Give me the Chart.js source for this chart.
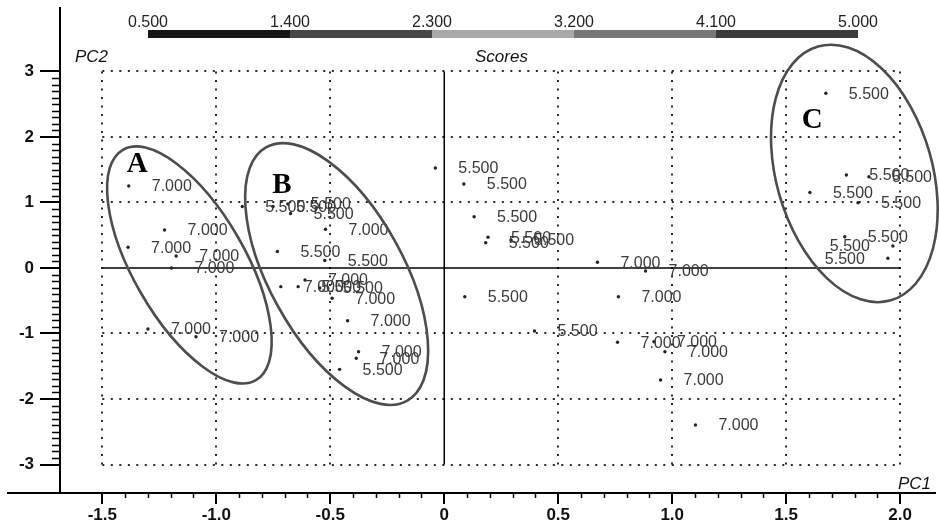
<!DOCTYPE html>
<html>
<head>
<meta charset="utf-8">
<script src="https://cdn.jsdelivr.net/npm/chart.js@4.4.0/dist/chart.umd.min.js"></script>
<style>
  html, body { margin: 0; padding: 0; background: #fff; }
  #wrap { width: 939px; height: 524px; }
</style>
</head>
<body>
<div id="wrap"><canvas id="scores" width="939" height="524"></canvas></div>
<script>
// scores on PC1 / PC2 and the value printed beside each point
const pc1 = [
  -1.384, -1.227, -1.387, -1.176, -1.197, -1.300, -1.089,
  -0.886, -0.751, -0.686, -0.674, -0.521, -0.732, -0.524, -0.717, -0.641, -0.611, -0.546, -0.492, -0.424, -0.376, -0.386, -0.459,
  -0.039, 0.086, 0.131, 0.192, 0.182, 0.293, 0.672, 0.883, 0.090, 0.764, 0.396, 0.760, 0.920, 0.968, 0.949, 1.102,
  1.674, 1.764, 1.863, 1.604, 1.815, 1.757, 1.968, 1.946
];
const pc2 = [
  1.252, 0.580, 0.316, 0.183, 0.000, -0.931, -1.049,
  0.939, 0.939, 0.977, 0.832, 0.591, 0.252, 0.115, -0.285, -0.285, -0.183, -0.305, -0.463, -0.805, -1.278, -1.379, -1.547,
  1.527, 1.282, 0.783, 0.469, 0.386, 0.427, 0.087, -0.046, -0.438, -0.438, -0.962, -1.134, -1.125, -1.278, -1.710, -2.397,
  2.667, 1.420, 1.394, 1.153, 0.997, 0.478, 0.336, 0.148
];
const pointValues = [
  7, 7, 7, 7, 7, 7, 7,
  5.5, 5.5, 5.5, 5.5, 7, 5.5, 5.5, 7, 5.5, 7, 5.5, 7, 7, 7, 7, 5.5,
  5.5, 5.5, 5.5, 5.5, 5.5, 5.5, 7, 7, 5.5, 7, 5.5, 7, 7, 7, 7, 7,
  5.5, 5.5, 5.5, 5.5, 5.5, 5.5, 5.5, 5.5
];

const xTicks = [-1.5, -1.0, -0.5, 0, 0.5, 1.0, 1.5, 2.0];
const yTicks = [-3, -2, -1, 0, 1, 2, 3];

// colour key above the plot
const scoreSteps = [0.5, 1.4, 2.3, 3.2, 4.1, 5.0];
const scoreColors = ['#161616', '#474747', '#a9a9a9', '#777777', '#3b3b3b'];

// group outlines: centre in PC units, radii in px, tilt in degrees, letter position in PC units
const groups = [
  { name: 'A', cx: -1.118, cy: 0.046, rx: 133, ry: 56, tilt: 60, lx: -1.393, ly: 1.466 },
  { name: 'B', cx: -0.472, cy: -0.092, rx: 145, ry: 67, tilt: 61, lx: -0.755, ly: 1.145 },
  { name: 'C', cx: 1.799, cy: 1.443, rx: 132, ry: 78, tilt: 74, lx: 1.568, ly: 2.137 }
];

const sans = '"Liberation Sans", Arial, sans-serif';

const scorePlot = {
  id: 'scorePlot',
  beforeDatasetsDraw(chart) {
    const { ctx, scales: { x, y } } = chart;
    const left = x.getPixelForValue(xTicks[0]);
    const right = x.getPixelForValue(xTicks[xTicks.length - 1]);
    const bottom = y.getPixelForValue(yTicks[0]);
    const top = y.getPixelForValue(yTicks[yTicks.length - 1]);
    ctx.save();
    ctx.strokeStyle = '#2a2a2a';
    ctx.lineWidth = 2;
    ctx.setLineDash([2, 6.5]);
    xTicks.forEach(v => {
      if (v === 0) return;
      const px = Math.round(x.getPixelForValue(v));
      ctx.beginPath(); ctx.moveTo(px, top); ctx.lineTo(px, bottom); ctx.stroke();
    });
    yTicks.forEach(v => {
      if (v === 0) return;
      const py = Math.round(y.getPixelForValue(v));
      ctx.beginPath(); ctx.moveTo(left, py); ctx.lineTo(right, py); ctx.stroke();
    });
    // solid zero lines
    ctx.setLineDash([]);
    ctx.strokeStyle = '#000';
    ctx.lineWidth = 1.5;
    const zx = x.getPixelForValue(0), zy = y.getPixelForValue(0);
    ctx.beginPath(); ctx.moveTo(zx, top); ctx.lineTo(zx, bottom); ctx.stroke();
    ctx.beginPath(); ctx.moveTo(left, zy); ctx.lineTo(right, zy); ctx.stroke();
    ctx.restore();
  },
  afterDatasetsDraw(chart) {
    const { ctx, scales: { x, y } } = chart;
    const meta = chart.getDatasetMeta(0);
    ctx.save();
    // value labels
    ctx.font = '16px ' + sans;
    ctx.fillStyle = '#3a3a3a';
    ctx.textBaseline = 'middle';
    meta.data.forEach((p, i) => {
      const text = pointValues[i].toFixed(3);
      const w = ctx.measureText(text).width;
      let tx = p.x + 23;
      if (tx + w > chart.width) tx = p.x - 23 - w;
      ctx.fillText(text, tx, p.y + 1);
    });
    // group ellipses and letters
    ctx.strokeStyle = '#4d4d4d';
    ctx.lineWidth = 2.6;
    groups.forEach(g => {
      ctx.beginPath();
      ctx.ellipse(x.getPixelForValue(g.cx), y.getPixelForValue(g.cy), g.rx, g.ry, g.tilt * Math.PI / 180, 0, Math.PI * 2);
      ctx.stroke();
    });
    ctx.fillStyle = '#000';
    ctx.font = 'bold 29px "Liberation Serif", "Times New Roman", serif';
    ctx.textBaseline = 'alphabetic';
    groups.forEach(g => ctx.fillText(g.name, x.getPixelForValue(g.lx), y.getPixelForValue(g.ly)));
    ctx.restore();
  },
  afterDraw(chart) {
    const { ctx, chartArea, scales: { x, y } } = chart;
    ctx.save();
    ctx.strokeStyle = '#000';
    // x axis runs on past the y axis
    ctx.lineWidth = 2;
    ctx.beginPath(); ctx.moveTo(7, chartArea.bottom); ctx.lineTo(chartArea.left, chartArea.bottom); ctx.stroke();
    // minor ticks every 0.1
    ctx.lineWidth = 1.5;
    for (let i = yTicks[0] * 10; i <= yTicks[yTicks.length - 1] * 10; i++) {
      if (i % 10 === 0) continue;
      const py = Math.round(y.getPixelForValue(i / 10)) + 0.5;
      ctx.beginPath(); ctx.moveTo(chartArea.left - 8, py); ctx.lineTo(chartArea.left, py); ctx.stroke();
    }
    for (let i = xTicks[0] * 10; i <= xTicks[xTicks.length - 1] * 10; i++) {
      if (i % 5 === 0) continue;
      const px = Math.round(x.getPixelForValue(i / 10)) + 0.5;
      ctx.beginPath(); ctx.moveTo(px, chartArea.bottom); ctx.lineTo(px, chartArea.bottom + 5); ctx.stroke();
    }
    // axis titles
    ctx.fillStyle = '#111';
    ctx.font = 'italic 17px ' + sans;
    ctx.textBaseline = 'alphabetic';
    ctx.fillText('PC2', 75, 62);
    ctx.fillText('Scores', 475, 62);
    ctx.fillText('PC1', 898, 489);
    // score colour key
    const barL = 148, barR = 858, seg = (barR - barL) / scoreColors.length;
    scoreColors.forEach((c, i) => {
      ctx.fillStyle = c;
      ctx.fillRect(barL + i * seg, 30, seg, 8);
    });
    ctx.fillStyle = '#222';
    ctx.font = '16px ' + sans;
    ctx.textAlign = 'center';
    scoreSteps.forEach((s, i) => ctx.fillText(s.toFixed(3), barL + i * seg, 27));
    ctx.restore();
  }
};

const noEdgePadding = s => {
  s.paddingTop = 0; s.paddingBottom = 0; s.paddingLeft = 0; s.paddingRight = 0;
};

new Chart(document.getElementById('scores'), {
  type: 'scatter',
  data: {
    datasets: [{
      data: pc1.map((v, i) => ({ x: v, y: pc2[i] })),
      pointRadius: 1.7,
      pointBackgroundColor: '#222',
      pointBorderWidth: 0
    }]
  },
  options: {
    responsive: false,
    animation: false,
    devicePixelRatio: 1,
    events: [],
    layout: { padding: { top: 8, right: 0, bottom: 0, left: 0 } },
    plugins: { legend: { display: false }, tooltip: { enabled: false } },
    scales: {
      x: {
        type: 'linear',
        position: 'bottom',
        min: -1.6856,
        max: 2.1528,
        afterBuildTicks: s => { s.ticks = xTicks.map(v => ({ value: v })); },
        afterFit: s => { s.height = 31; noEdgePadding(s); },
        grid: { display: true, drawOnChartArea: false, drawTicks: true, tickLength: 11, color: '#000', lineWidth: 2 },
        border: { display: true, color: '#000', width: 2 },
        ticks: {
          padding: 1,
          maxRotation: 0,
          autoSkip: false,
          color: '#111',
          font: { family: sans, size: 17, weight: 'bold' },
          callback: v => (v === 0 ? '0' : v.toFixed(1))
        }
      },
      y: {
        type: 'linear',
        position: 'left',
        min: -3.435,
        max: 3.969,
        afterBuildTicks: s => { s.ticks = yTicks.map(v => ({ value: v })); },
        afterFit: s => { s.width = 60; noEdgePadding(s); },
        grid: { display: true, drawOnChartArea: false, drawTicks: true, tickLength: 20, color: '#000', lineWidth: 2 },
        border: { display: true, color: '#000', width: 2 },
        ticks: {
          padding: 6,
          autoSkip: false,
          color: '#111',
          font: { family: sans, size: 17, weight: 'bold' },
          callback: v => String(v)
        }
      }
    }
  },
  plugins: [scorePlot]
});
</script>
</body>
</html>
